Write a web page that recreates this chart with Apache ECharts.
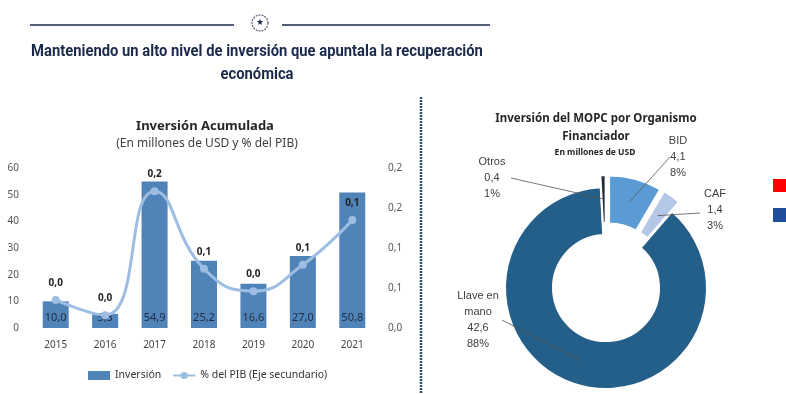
<!DOCTYPE html>
<html><head><meta charset="utf-8">
<script src="https://cdn.jsdelivr.net/npm/echarts@6/dist/echarts.min.js"></script>
<style>html,body{margin:0;padding:0;background:#fff}#c{width:786px;height:394px}</style>
</head><body><div id="c"></div>
<script>
// ---- data ----
const years = ['2015', '2016', '2017', '2018', '2019', '2020', '2021'];
const inversion = [10.0, 5.3, 54.9, 25.2, 16.6, 27.0, 50.8];
const pctPib = [0.035, 0.016, 0.171, 0.074, 0.046, 0.079, 0.135];
const rightTickLabels = ['0,0', '0,1', '0,1', '0,2', '0,2'];
const orgNames = ['Otros', 'BID', 'CAF', 'Llave en mano'];
const orgValues = [0.4, 4.1, 1.4, 42.6];

const fmt = v => v.toFixed(1).replace('.', ',');
const FONT = "'Noto Sans', Lato, sans-serif";
const TITLE_FONT = "Roboto, 'Noto Sans', sans-serif";
const LBL_FONT = "'Liberation Sans', Arial, sans-serif";

// pie geometry (layout)
const PC = [606, 288], R_IN = 53, R_OUT = 101, SEL = 12, START = 93;
const orgColors = ['#222b38', '#5b9bd5', '#b4c7e7', '#245f8a'];
const labelPos = [[492, 178], [678, 157], [715, 210], [478, 320]];
const lineStart = [[511, 178], [670, 157], [700, 213], [502, 320]];

const total = orgValues.reduce((a, b) => a + b, 0);
function midAngle(i) {
  let before = 0;
  for (let k = 0; k < i; k++) before += orgValues[k];
  return (START - (before + orgValues[i] / 2) / total * 360) * Math.PI / 180;
}
const wrapName = n => n.replace(/^(\S+ \S+) /, '$1\n');

const pieLabelGraphics = [];
orgNames.forEach((n, i) => {
  const a = midAngle(i);
  const r = (R_IN + R_OUT) / 2 + (i < 3 ? SEL : 0);
  const end = [PC[0] + r * Math.cos(a), PC[1] - r * Math.sin(a)];
  pieLabelGraphics.push({
    type: 'polyline', z: 10, shape: { points: [lineStart[i], end] },
    style: { stroke: '#555', lineWidth: 0.8, fill: null }
  });
  pieLabelGraphics.push({
    type: 'text', z: 10, x: labelPos[i][0], y: labelPos[i][1],
    style: {
      text: wrapName(n) + '\n' + fmt(orgValues[i]) + '\n' + Math.round(orgValues[i] / total * 100) + '%',
      font: '11px ' + LBL_FONT, lineHeight: 16, fill: '#404040',
      textAlign: 'center', textVerticalAlign: 'middle', align: 'center', verticalAlign: 'middle'
    }
  });
});

const chart = echarts.init(document.getElementById('c'));
chart.setOption({
  animation: false,
  textStyle: { fontFamily: FONT },
  grid: { left: 31, right: 409, top: 168, bottom: 66 },
  xAxis: {
    type: 'category', data: years,
    axisLine: { show: false }, axisTick: { show: false },
    axisLabel: { color: '#444', fontSize: 10, margin: 12 }
  },
  yAxis: [
    { type: 'value', min: 0, max: 60, interval: 10, splitLine: { show: false },
      axisLabel: { color: '#555', fontSize: 10, margin: 12 } },
    { type: 'value', min: 0, max: 0.2, interval: 0.05, splitLine: { show: false },
      axisLabel: { color: '#555', fontSize: 10, margin: 11, align: 'left',
        formatter: (v, i) => rightTickLabels[i] } }
  ],
  legend: {
    left: 83, top: 365, itemWidth: 22, itemHeight: 9, itemGap: 11,
    textStyle: { color: '#333', fontSize: 10.5, fontFamily: FONT },
    data: [{ name: 'Inversión', icon: 'rect' }, { name: '% del PIB (Eje secundario)' }]
  },
  series: [
    {
      name: 'Inversión', type: 'bar', data: inversion, barWidth: 26,
      itemStyle: { color: '#5083b8' },
      label: { show: true, position: 'insideBottom', distance: 5, color: '#1f2d44', fontSize: 11,
        formatter: p => fmt(p.value) }
    },
    {
      name: '% del PIB (Eje secundario)', type: 'line', yAxisIndex: 1, data: pctPib, smooth: 0.5,
      symbol: 'circle', symbolSize: 8,
      lineStyle: { width: 3, color: '#9dbde3' }, itemStyle: { color: '#9dbde3' },
      label: { show: true, position: 'top', distance: 8, color: '#222', fontSize: 10, fontWeight: 'bold',
        formatter: p => fmt(p.value) }
    },
    {
      type: 'pie', center: PC, radius: [R_IN, R_OUT], startAngle: START, clockwise: true,
      selectedMode: 'multiple', selectedOffset: SEL,
      itemStyle: { borderColor: '#fff', borderWidth: 2 },
      label: { show: false }, labelLine: { show: false },
      data: orgNames.map((n, i) => ({ name: n, value: orgValues[i], selected: i < 3,
        itemStyle: { color: orgColors[i] } }))
    }
  ],
  graphic: [
    { type: 'line', shape: { x1: 30, y1: 25, x2: 234, y2: 25 }, style: { stroke: '#1b2a4a', lineWidth: 1.3 } },
    { type: 'line', shape: { x1: 282, y1: 25, x2: 490, y2: 25 }, style: { stroke: '#1b2a4a', lineWidth: 1.3 } },
    { type: 'circle', shape: { cx: 260, cy: 23, r: 8 }, style: { fill: 'none', stroke: '#556070', lineWidth: 1.2, lineDash: [2, 1] } },
    { type: 'text', x: 260, y: 23, style: { text: '★', font: '9px DejaVu Sans', fill: '#1b2a4a', textAlign: 'center', textVerticalAlign: 'middle' } },
    { type: 'text', x: 257, y: 52, scaleX: 0.87, style: { text: 'Manteniendo un alto nivel de inversión que apuntala la recuperación',
        font: 'bold 17px ' + TITLE_FONT, fill: '#1b2a4a', textAlign: 'center', textVerticalAlign: 'middle' } },
    { type: 'text', x: 257, y: 75, scaleX: 0.87, style: { text: 'económica',
        font: 'bold 17px ' + TITLE_FONT, fill: '#1b2a4a', textAlign: 'center', textVerticalAlign: 'middle' } },
    { type: 'line', shape: { x1: 421, y1: 97, x2: 421, y2: 394 }, style: { stroke: '#2e4d6e', lineWidth: 2.5, lineDash: [2, 1] } },
    { type: 'text', x: 205, y: 126, style: { text: 'Inversión Acumulada', font: 'bold 13px ' + FONT, fill: '#262626', textAlign: 'center', textVerticalAlign: 'middle' } },
    { type: 'text', x: 207, y: 144, style: { text: '(En millones de USD y % del PIB)', font: '12px ' + FONT, fill: '#404040', textAlign: 'center', textVerticalAlign: 'middle' } },
    { type: 'text', x: 596, y: 119, style: { text: 'Inversión del MOPC por Organismo', font: 'bold 11.5px ' + FONT, fill: '#262626', textAlign: 'center', textVerticalAlign: 'middle' } },
    { type: 'text', x: 596, y: 137, style: { text: 'Financiador', font: 'bold 11.5px ' + FONT, fill: '#262626', textAlign: 'center', textVerticalAlign: 'middle' } },
    { type: 'text', x: 595, y: 153, style: { text: 'En millones de USD', font: 'bold 8.5px ' + FONT, fill: '#262626', textAlign: 'center', textVerticalAlign: 'middle' } },
    { type: 'rect', shape: { x: 773, y: 179, width: 14, height: 13 }, style: { fill: '#ff0000' } },
    { type: 'rect', shape: { x: 773, y: 208, width: 14, height: 14 }, style: { fill: '#1f4e9c' } }
  ].concat(pieLabelGraphics)
});
</script></body></html>
